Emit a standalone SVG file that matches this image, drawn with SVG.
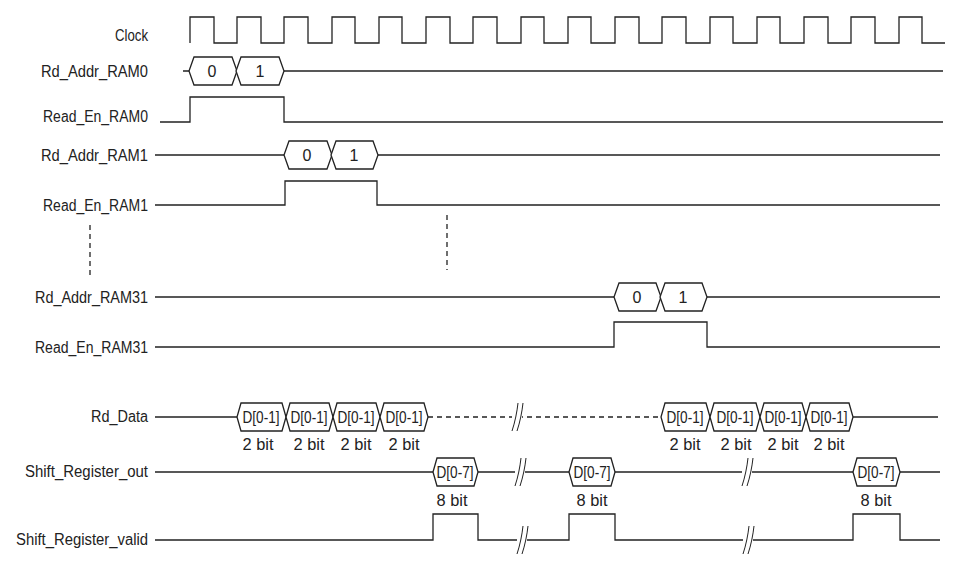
<svg xmlns="http://www.w3.org/2000/svg" width="964" height="573" viewBox="0 0 964 573">
<defs>
<style>
.w{fill:none;stroke:#222;stroke-width:1.3}
.h{fill:#fff;stroke:#222;stroke-width:1.3}
.d{fill:none;stroke:#222;stroke-width:1.3;stroke-dasharray:5 4}
.l{font-family:"Liberation Sans",Arial,sans-serif;font-size:16px;fill:#222;text-anchor:end}
.t{font-family:"Liberation Sans",Arial,sans-serif;font-size:16px;fill:#222;text-anchor:middle}
.b{fill:none;stroke:#222;stroke-width:1}
</style>
<g id="brk"><path class="b" d="M-4,14 C-1,5 1,-5 2,-14 M1,14 C4,5 6,-5 7,-14"/></g>
</defs>
<rect width="964" height="573" fill="#fff"/>
<g id="labels">
<text class="l" x="148" y="41" textLength="33" lengthAdjust="spacingAndGlyphs">Clock</text>
<text class="l" x="148" y="77" textLength="107" lengthAdjust="spacingAndGlyphs">Rd_Addr_RAM0</text>
<text class="l" x="148" y="122" textLength="105" lengthAdjust="spacingAndGlyphs">Read_En_RAM0</text>
<text class="l" x="148" y="161" textLength="107" lengthAdjust="spacingAndGlyphs">Rd_Addr_RAM1</text>
<text class="l" x="148" y="211" textLength="105" lengthAdjust="spacingAndGlyphs">Read_En_RAM1</text>
<text class="l" x="148" y="303" textLength="113" lengthAdjust="spacingAndGlyphs">Rd_Addr_RAM31</text>
<text class="l" x="148" y="353" textLength="113" lengthAdjust="spacingAndGlyphs">Read_En_RAM31</text>
<text class="l" x="148" y="422" textLength="57" lengthAdjust="spacingAndGlyphs">Rd_Data</text>
<text class="l" x="148" y="477" textLength="123" lengthAdjust="spacingAndGlyphs">Shift_Register_out</text>
<text class="l" x="148" y="545" textLength="132" lengthAdjust="spacingAndGlyphs">Shift_Register_valid</text>
</g>
<g id="connectors">
<path class="w" d="M190,43 V17 H214 V43 H237 V17 H261 V43 H284 V17 H308 V43 H332 V17 H355 V43 H379 V17 H402 V43 H426 V17 H450 V43 H473 V17 H497 V43 H521 V17 H544 V43 H568 V17 H591 V43 H615 V17 H639 V43 H662 V17 H686 V43 H710 V17 H733 V43 H757 V17 H780 V43 H804 V17 H828 V43 H851 V17 H875 V43 H899 V17 H922 V43 H945"/>
<path class="w" d="M183,71 H190 M284,71 H943"/>
<path class="w" d="M160,122 H190 V97 H284 V122 H943"/>
<path class="w" d="M155,155 H284 M378,155 H940"/>
<path class="w" d="M155,205 H285 V181 H377 V205 H940"/>
<path class="d" d="M90,225 V275 M447,215 V270"/>
<path class="w" d="M155,297 H614 M707,297 H940"/>
<path class="w" d="M155,347 H614 V322 H707 V347 H940"/>
<path class="w" d="M155,417 H237 M853,417 H938"/>
<path class="d" d="M428,417 H661"/>
<path class="w" d="M155,472 H433 M478,472 H569 M615,472 H853 M900,472 H940"/>
<path class="w" d="M155,540 H433 V514 H478 V540 H569 V514 H615 V540 H853 V514 H900 V540 H940"/>
<rect x="512" y="405" width="10" height="24" fill="#fff"/>
<use href="#brk" x="516" y="417"/>
<rect x="515" y="460" width="10" height="24" fill="#fff"/>
<use href="#brk" x="519" y="472"/>
<rect x="517" y="528" width="10" height="24" fill="#fff"/>
<use href="#brk" x="521" y="540"/>
<rect x="742" y="460" width="10" height="24" fill="#fff"/>
<use href="#brk" x="746" y="472"/>
<rect x="743" y="528" width="10" height="24" fill="#fff"/>
<use href="#brk" x="747" y="540"/>
</g>
<g id="ram0">
<path class="h" d="M194,57 H232 L237,71 L232,85 H194 L189,71 Z"/><text class="t" x="212" y="77">0</text>
<path class="h" d="M241,57 H279 L284,71 L279,85 H241 L236,71 Z"/><text class="t" x="260" y="77">1</text>
</g>
<g id="ram1">
<path class="h" d="M289,141 H327 L332,155 L327,169 H289 L284,155 Z"/><text class="t" x="307" y="161">0</text>
<path class="h" d="M336,141 H373 L378,155 L373,169 H336 L331,155 Z"/><text class="t" x="354" y="161">1</text>
</g>
<g id="ram31">
<path class="h" d="M619,283 H656 L661,297 L656,311 H619 L614,297 Z"/><text class="t" x="637" y="303">0</text>
<path class="h" d="M665,283 H702 L707,297 L702,311 H665 L660,297 Z"/><text class="t" x="683" y="303">1</text>
</g>
<g id="rddata">
<path class="h" d="M241,403 H282 L286,417 L282,431 H241 L237,417 Z"/><text class="t" x="261" y="423" textLength="37" lengthAdjust="spacingAndGlyphs">D[0-1]</text>
<path class="h" d="M290,403 H329 L333,417 L329,431 H290 L286,417 Z"/><text class="t" x="309" y="423" textLength="37" lengthAdjust="spacingAndGlyphs">D[0-1]</text>
<path class="h" d="M337,403 H376 L380,417 L376,431 H337 L333,417 Z"/><text class="t" x="356" y="423" textLength="37" lengthAdjust="spacingAndGlyphs">D[0-1]</text>
<path class="h" d="M384,403 H424 L428,417 L424,431 H384 L380,417 Z"/><text class="t" x="404" y="423" textLength="37" lengthAdjust="spacingAndGlyphs">D[0-1]</text>
<text class="t" x="258" y="450" textLength="31" lengthAdjust="spacingAndGlyphs">2 bit</text><text class="t" x="309" y="450" textLength="31" lengthAdjust="spacingAndGlyphs">2 bit</text><text class="t" x="356" y="450" textLength="31" lengthAdjust="spacingAndGlyphs">2 bit</text><text class="t" x="404" y="450" textLength="31" lengthAdjust="spacingAndGlyphs">2 bit</text>
<path class="h" d="M665,403 H706 L710,417 L706,431 H665 L661,417 Z"/><text class="t" x="685" y="423" textLength="37" lengthAdjust="spacingAndGlyphs">D[0-1]</text>
<path class="h" d="M714,403 H756 L760,417 L756,431 H714 L710,417 Z"/><text class="t" x="735" y="423" textLength="37" lengthAdjust="spacingAndGlyphs">D[0-1]</text>
<path class="h" d="M764,403 H802 L806,417 L802,431 H764 L760,417 Z"/><text class="t" x="783" y="423" textLength="37" lengthAdjust="spacingAndGlyphs">D[0-1]</text>
<path class="h" d="M810,403 H849 L853,417 L849,431 H810 L806,417 Z"/><text class="t" x="829" y="423" textLength="37" lengthAdjust="spacingAndGlyphs">D[0-1]</text>
<text class="t" x="685" y="450" textLength="31" lengthAdjust="spacingAndGlyphs">2 bit</text><text class="t" x="736" y="450" textLength="31" lengthAdjust="spacingAndGlyphs">2 bit</text><text class="t" x="783" y="450" textLength="31" lengthAdjust="spacingAndGlyphs">2 bit</text><text class="t" x="829" y="450" textLength="31" lengthAdjust="spacingAndGlyphs">2 bit</text>
</g>
<g id="srout">
<path class="h" d="M437,458 H474 L478,472 L474,486 H437 L433,472 Z"/><text class="t" x="455" y="478" textLength="37" lengthAdjust="spacingAndGlyphs">D[0-7]</text>
<path class="h" d="M573,458 H611 L615,472 L611,486 H573 L569,472 Z"/><text class="t" x="592" y="478" textLength="37" lengthAdjust="spacingAndGlyphs">D[0-7]</text>
<path class="h" d="M857,458 H896 L900,472 L896,486 H857 L853,472 Z"/><text class="t" x="876" y="478" textLength="37" lengthAdjust="spacingAndGlyphs">D[0-7]</text>
<text class="t" x="452" y="506" textLength="31" lengthAdjust="spacingAndGlyphs">8 bit</text><text class="t" x="592" y="506" textLength="31" lengthAdjust="spacingAndGlyphs">8 bit</text><text class="t" x="876" y="506" textLength="31" lengthAdjust="spacingAndGlyphs">8 bit</text>
</g>
</svg>
